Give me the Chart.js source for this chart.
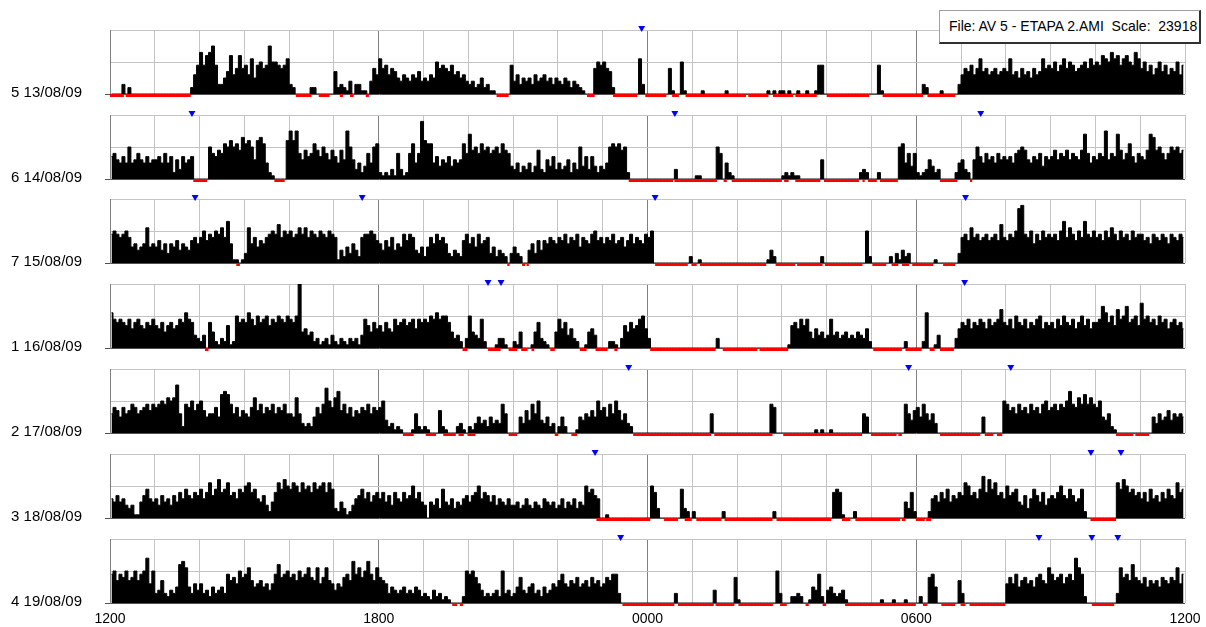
<!DOCTYPE html>
<html>
<head>
<meta charset="utf-8">
<script src="https://cdn.jsdelivr.net/npm/chart.js@4.4.1/dist/chart.umd.min.js"></script>
<style>
  body { margin: 0; background: #fff; width: 1206px; height: 627px; overflow: hidden; position: relative; }
  .row { position: absolute; left: 0; width: 1206px; height: 106px; }
  #fileBox {
    position: absolute; left: 939px; top: 10px; width: 250px; height: 31px; z-index: 5;
    background: #fff; border: 1px solid #a0a0a0; border-right: 2px solid #303030; border-bottom: 2px solid #303030;
    font: 14px 'Liberation Sans', Arial, sans-serif; line-height: 31px;
    padding-left: 9px; white-space: pre; color: #000;
  }
</style>
</head>
<body>
<div id="fileBox">File: AV 5 - ETAPA 2.AMI  Scale:  23918</div>
<script>
// one label per day row, top to bottom
const dayLabels = ['5 13/08/09', '6 14/08/09', '7 15/08/09', '1 16/08/09', '2 17/08/09', '3 18/08/09', '4 19/08/09'];
const hourLabels = ['1200', '1800', '0000', '0600', '1200'];

// activity per 4-minute epoch, one string per hour starting at 12:00
// each char is base-36, 20 = full scale
const act13 = [
  '000030200000000', '000000000000269', 'd9cdf93357c68c8', '96b59a89faa989b',
  '320000022000000', '723214033110486', 'b89687546546574', '5465a8987967564',
  '342352311000009', '463545364564535', '4354243210008a9', 'a87200000000b30',
  '00000008100a100', '000100000001000', '000000000010101', '101001001001990',
  '000000000000000', '009100000000000', '003200001000003', '687968b78678678',
  '7b6758675867b89', '8a79b8a9789a8b9', 'a9cbadbc9bca9db', '8a7968a79687a69'
];
const act14 = [
  '786575a56865756', '675857263756700', '000a8798bacab9d', 'bca6cdb5210000c',
  'fcf86978b97a869', '7596fa6352485ab', '21213183128b58i', 'cbb5746574656b8',
  'e9a8b9a89a8b984', '352435249326473', '5346253a4737424', '35abab9a2000000',
  '000000000300000', '01100000a805210', '000000000000000', '121211000000060',
  '000000000002320', '002000000ab5848', '212364230000025', '63206a758675867',
  '67589a965768476', '79687968769e857', '687f687e968b758', '769ed9a868a9a89'
];
const act15 = [
  '9a989a856456b56', '574636574654786', '8a798a9b8d61101', '3b6857689a9c8a9',
  'a89b9b8a98a98a9', '814253642899a97', '647584659798435', '258697863243279',
  '685967835243203', '532004637476876', '879687958769a78', '687967857968769',
  '8a0000000000002', '001000000000000', '000000000014200', '000000000000020',
  '0000000000000a2', '000000203142300', '000000100000003', '897b897897897c8',
  '798ahi98a697a89', '897ad8b97a8d98a', '897a8b97a897a89', '978698798698798'
];
const act16 = [
  'b98987968976879', '7685786798b9843', '240852132712a89', '8b97a89a798a98a',
  '98ak56452312314', '213213231497586', '758659789789698', '98a9b9aa8534203',
  'a54392000133100', '215000158321005', '968463200156400', '0022103758679a6',
  '300000000000000', '000000003000000', '000000000000000', '001786979536453',
  '494534534354362', '000000000002000', '002b00140000036', '8796879869789c8',
  '796a8796879a687', '8697a87968a7968', '89db8a7c9ad89a7', 'e9a897a89689786'
];
const act17 = [
  '687586798678979', '89a9babf6298a79', 'a756685cdc96857', '658b79687968796',
  '65b632325869ea8', 'bd7968576879687', '8a4231210001621', '210007210002310',
  '213534253439600', '00537496a435230', '2520001546575a7', '8596a7463200000',
  '000000000000000', '000000600000000', '000000000009800', '000000000001010',
  '010000000000650', '000000000009647', '859646300000000', '00000005000000a',
  '9786978697869a7', '89798ad98b9c9b9', '8a5462100000000', '000053645746565'
];
const act18 = [
  '657564341157965', '647564758697687', '968b79c89b78698', 'ab896574258b9ca',
  '9ba8b9a8b9ab8b9', '325312467968578', '68574865867a685', '405463954635467',
  '578a68757465464', '453464354365453', '463546354a89760', '010000000000000',
  '0a8300000009320', '200000000020000', '000000000000200', '000000000000000',
  '008981000200000', '000000000005382', '000026758695768', '7ba7869d8c9b786',
  'a78954736975846', '768a76975692000', '0000000b9ca8978', '685967586976b89'
];
const act19 = [
  '9a798a78a79ae6a', '34732435cdb5364', '6342534539786a8', '9b756756469c89a',
  '897a89b87b68b76', '465897d9b8ad97b', '876354345343542', '32142312100002a',
  '9a864232342a342', '358435634253465', '796576856758675', '687993000000000',
  '000000000300000', '000000040000008', '1000000000000a3', '000223200154920',
  '453234100000000', '000100010001000', '020089500000007', '300000000000000',
  '68695786758976b', '97896897eb92000', '00000003b897c87', '685767587687b69'
];

// sleep periods, [start, end] in hours after 12:00
const sleep13 = [[0, 0.31], [0.35, 1.8], [4.15, 4.5], [4.66, 4.9], [5.13, 5.2], [5.36, 5.44], [5.71, 5.78],
  [8.63, 8.9], [10.65, 10.82], [11.23, 11.77], [11.95, 12.42], [12.55, 12.7], [12.85, 14.2], [14.25, 14.7],
  [14.8, 15.25], [15.3, 15.78], [16.0, 16.95], [17.25, 18.15], [18.25, 18.87]];
const sleep14 = [[1.86, 2.17], [3.67, 3.9], [11.58, 12.57], [12.6, 13.55], [13.7, 13.77], [13.88, 15.0],
  [15.05, 15.15], [15.3, 15.86], [15.94, 16.72], [16.8, 16.85], [16.92, 17.12], [17.19, 17.59],
  [18.53, 18.92], [19.2, 19.25]];
const sleep15 = [[2.82, 2.9], [8.87, 8.92], [9.2, 9.27], [9.3, 9.35], [12.17, 12.9], [12.98, 13.1],
  [13.17, 14.65], [14.86, 15.3], [15.34, 15.91], [15.96, 16.8], [17.02, 17.33], [17.45, 17.6],
  [17.68, 17.84], [17.91, 18.38], [18.6, 18.87]];
const sleep16 = [[2.12, 2.2], [7.87, 7.98], [8.44, 8.72], [8.9, 9.09], [9.18, 9.32], [9.41, 9.47],
  [9.83, 9.93], [10.49, 10.64], [10.84, 11.11], [11.26, 11.33], [12.06, 13.52], [13.68, 14.45],
  [14.5, 15.14], [17.04, 17.68], [17.76, 18.12], [18.3, 18.41], [18.53, 18.84]];
const sleep17 = [[6.54, 6.78], [7.05, 7.28], [7.44, 7.72], [7.78, 7.9], [7.98, 8.16], [8.9, 9.09],
  [9.93, 10.01], [10.3, 10.43], [11.68, 13.42], [13.49, 14.79], [15.03, 16.79], [16.99, 17.56],
  [17.6, 17.68], [18.53, 19.43], [19.53, 19.72], [19.8, 19.92], [22.46, 22.85], [22.89, 23.2]];
const sleep18 = [[10.86, 12.06], [12.37, 12.68], [12.83, 12.99], [13.09, 13.65], [13.72, 14.79],
  [14.88, 16.1], [16.34, 16.53], [16.64, 17.64], [17.68, 17.76], [17.99, 18.19], [18.22, 18.33],
  [21.89, 22.46]];
const sleep19 = [[7.64, 7.75], [7.81, 7.88], [11.44, 12.6], [12.68, 13.48], [13.52, 13.94], [14.03, 14.8],
  [14.96, 15.11], [15.53, 15.6], [15.91, 15.99], [16.41, 17.99], [18.15, 18.25], [18.56, 18.87],
  [18.99, 19.1], [19.19, 19.99], [21.92, 22.42]];

// event marks, hours after 12:00
const marks13 = [11.87];
const marks14 = [1.83, 12.61, 19.44];
const marks15 = [1.9, 5.63, 12.17, 19.1];
const marks16 = [8.44, 8.73, 19.08];
const marks17 = [11.58, 17.83, 20.11];
const marks18 = [10.83, 21.9, 22.57];
const marks19 = [11.4, 20.74, 21.92, 22.5];

const activity = [act13, act14, act15, act16, act17, act18, act19];
const sleeps = [sleep13, sleep14, sleep15, sleep16, sleep17, sleep18, sleep19];
const marks = [marks13, marks14, marks15, marks16, marks17, marks18, marks19];

const FULL = 20;
const rowTops = [30, 115, 199, 284, 369, 454, 539];
const fontFamily = "'Liberation Sans', Arial, sans-serif";

function epochPoints(hours) {
  const pts = [];
  hours.forEach((s, h) => {
    for (let i = 0; i < s.length; i++) {
      pts.push({ x: h + (i + 0.5) / s.length, y: parseInt(s[i], 36) });
    }
  });
  return pts;
}

function sleepPoints(list) {
  const pts = [];
  list.forEach(([a, b]) => {
    pts.push({ x: a, y: -0.47 }, { x: b, y: -0.47 }, { x: b, y: null });
  });
  return pts;
}

function drawRow(idx) {
  const wrap = document.createElement('div');
  wrap.className = 'row';
  wrap.style.top = (rowTops[idx] - 12) + 'px';
  const cv = document.createElement('canvas');
  cv.width = 1206;
  cv.height = 106;
  wrap.appendChild(cv);
  document.body.appendChild(wrap);
  const lastRow = idx === dayLabels.length - 1;

  new Chart(cv, {
    type: 'line',
    data: {
      datasets: [
        {
          label: 'activity',
          data: epochPoints(activity[idx]),
          stepped: 'middle',
          fill: 'origin',
          backgroundColor: '#000',
          borderColor: '#000',
          borderWidth: 1,
          pointRadius: 0,
          order: 3
        },
        {
          label: 'sleep',
          data: sleepPoints(sleeps[idx]),
          borderColor: '#ff0000',
          borderWidth: 3,
          borderCapStyle: 'butt',
          pointRadius: 0,
          spanGaps: false,
          fill: false,
          clip: false,
          order: 2
        },
        {
          label: 'marks',
          data: marks[idx].map(h => ({ x: h, y: FULL + 0.6 })),
          showLine: false,
          pointStyle: 'triangle',
          rotation: 180,
          pointRadius: 4,
          backgroundColor: '#0000ff',
          borderColor: '#0000ff',
          borderWidth: 0,
          clip: false,
          order: 1
        }
      ]
    },
    options: {
      responsive: false,
      animation: false,
      devicePixelRatio: 1,
      events: [],
      layout: { padding: { top: 12, right: 21, left: 0, bottom: 0 } },
      plugins: { legend: { display: false }, tooltip: { enabled: false } },
      scales: {
        x: {
          type: 'linear',
          min: 0,
          max: 24,
          afterBuildTicks: (scale) => {
            scale.ticks = [];
            for (let h = 0; h <= 24; h++) scale.ticks.push({ value: h });
          },
          afterFit: (scale) => {
            scale.height = 30;
            scale.paddingLeft = 0;
            scale.paddingRight = 0;
          },
          border: { display: false },
          grid: {
            drawTicks: false,
            color: (ctx) => {
              const v = ctx.tick ? ctx.tick.value : 0;
              return (v % 6 === 0 && v !== 24) ? '#808080' : '#c4c4c4';
            }
          },
          ticks: {
            autoSkip: false,
            maxRotation: 0,
            padding: 8,
            color: '#000',
            font: { family: fontFamily, size: 14 },
            callback: (v) => (lastRow && v % 6 === 0) ? hourLabels[v / 6] : ''
          }
        },
        y: {
          min: 0,
          max: FULL,
          afterBuildTicks: (scale) => {
            scale.ticks = [0, 5, 10, 15, 20].map(v => ({ value: v }));
          },
          afterFit: (scale) => {
            scale.width = 110;
            scale.paddingTop = 0;
            scale.paddingBottom = 0;
          },
          border: { display: true, color: '#808080' },
          grid: {
            tickLength: 5,
            color: (ctx) => (ctx.tick && ctx.tick.value === 0) ? '#505050' : '#c4c4c4',
            tickColor: (ctx) => (ctx.tick && ctx.tick.value === 0) ? '#505050' : 'rgba(0,0,0,0)'
          },
          ticks: {
            padding: 23,
            labelOffset: -1,
            color: '#000',
            font: { family: fontFamily, size: 15 },
            callback: (v) => v === 0 ? dayLabels[idx] : ''
          }
        }
      }
    }
  });
}

dayLabels.forEach((_, i) => drawRow(i));
</script>
</body>
</html>
